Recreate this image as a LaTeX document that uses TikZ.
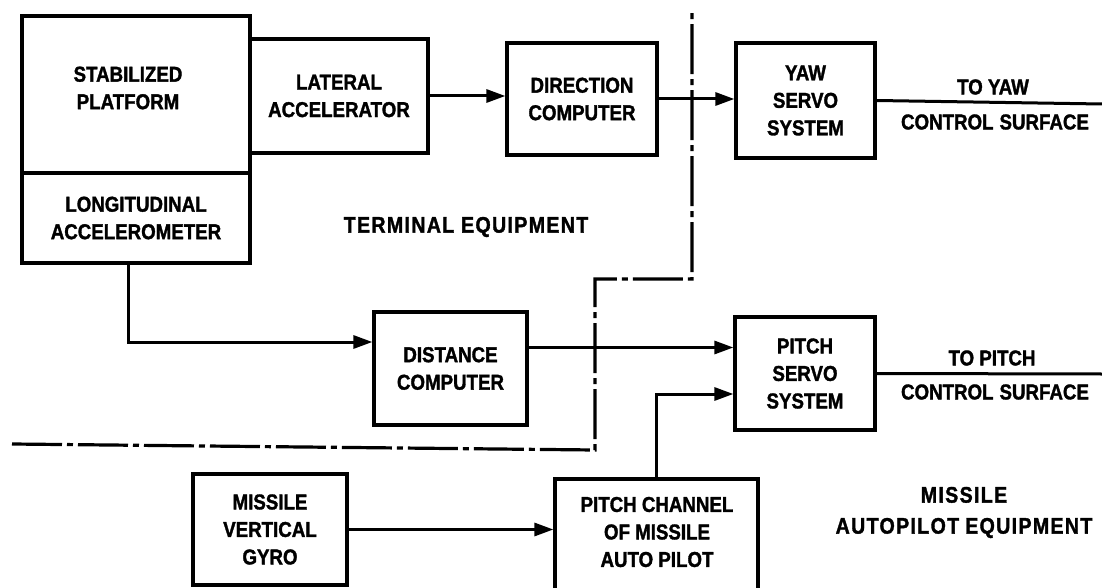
\documentclass[tikz,border=0pt]{standalone}
\usepackage{fontspec}
\setmainfont{Liberation Sans}[FakeStretch=0.87,BoldFeatures={FakeBold=1.5}]
\newfontfamily\lblfont{Liberation Sans}[FakeStretch=0.87,LetterSpace=6,BoldFeatures={FakeBold=1.5}]
\usetikzlibrary{arrows.meta}
\begin{document}
\begin{tikzpicture}[x=1pt,y=-1pt,
  box/.style={draw,line width=3.2pt,inner sep=0pt,align=center,
    font=\bfseries\fontsize{21.5}{27.5}\selectfont},
  txt/.style={inner sep=0pt,align=center,font=\bfseries\fontsize{21.5}{27.5}\selectfont},
  region/.style={inner sep=0pt,align=center,font=\lblfont\bfseries\fontsize{22.5}{31}\selectfont},
  conn/.style={line width=3pt},
  arr/.style={conn,-{Triangle[length=19pt,width=13pt]}},
  border/.style={line width=3.2pt,dash pattern=on 50pt off 5pt on 6pt off 5pt}]
\useasboundingbox (0,0) rectangle (1102,588);
\clip (0,0) rectangle (1102,588);

% boxes
\node[box,minimum width=228pt,minimum height=157pt] (stab) at (136,94.5) {};
\node[txt] (stabT) at (128,88) {STABILIZED\\PLATFORM};
\node[box,minimum width=228pt,minimum height=90pt] (long) at (136,218) {LONGITUDINAL\\ACCELEROMETER};
\node[box,minimum width=178pt,minimum height=114pt] (lat) at (339,96) {LATERAL\\ACCELERATOR};
\node[box,minimum width=150pt,minimum height=112pt] (dir) at (582,99) {DIRECTION\\COMPUTER};
\node[box,minimum width=139pt,minimum height=115pt] (yaw) at (805.5,100.5) {YAW\\SERVO\\SYSTEM};
\node[box,minimum width=153pt,minimum height=113pt] (dist) at (450.5,368.5) {DISTANCE\\COMPUTER};
\node[box,minimum width=140pt,minimum height=113pt] (ps) at (805,373.5) {PITCH\\SERVO\\SYSTEM};
\node[box,minimum width=154pt,minimum height=111pt] (gyro) at (270,529.5) {MISSILE\\VERTICAL\\GYRO};
\node[box,minimum width=203pt,minimum height=130pt] (pc) at (656.5,544) {};
\node[txt] (pcT) at (657,532) {PITCH CHANNEL\\OF MISSILE\\AUTO PILOT};

% output ends
\coordinate (yawout) at (1102,104);
\coordinate (pout) at (1102,374);

% connectors
\draw[arr] (lat.east) -- (lat.east -| dir.west);
\draw[arr] (dir.east) -- (dir.east -| yaw.west);
\draw[conn] (yaw.east) -- (yawout);
\draw[arr] ([xshift=-8pt]long.south) |- ([yshift=26.5pt]dist.west);
\draw[arr] ([yshift=21pt]dist.east) -- ([yshift=21pt]dist.east -| ps.west);
\draw[arr] (pc.north) |- ([yshift=-20.5pt]ps.west);
\draw[arr] (gyro.east) -- (gyro.east -| pc.west);
\draw[conn] (ps.east) -- (pout);

% boundary line
\draw[border] (12,444) -- (595,450) -- (595,279) -- (692,279) -- (692,12);

% labels
\node[txt] (toyaw) at (993,87) {TO YAW};
\node[txt] (csyaw) at (995,122) {CONTROL\hspace{6pt}SURFACE};
\node[txt] (topitch) at (992,358) {TO PITCH};
\node[txt] (cspitch) at (995,392) {CONTROL\hspace{6pt}SURFACE};
\node[region] (term) at (466,227) {TERMINAL EQUIPMENT};
\node[region] (mis) at (964,512.5) {MISSILE\\AUTOPILOT\hspace{6pt}EQUIPMENT};
\end{tikzpicture}
\end{document}
